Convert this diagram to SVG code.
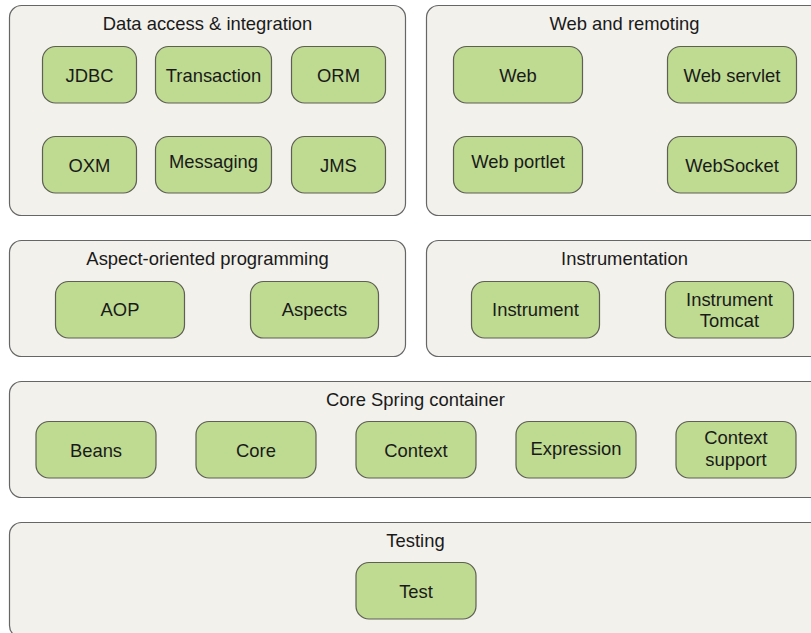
<svg xmlns="http://www.w3.org/2000/svg" width="811" height="633" viewBox="0 0 811 633">
<style>
.grp{fill:#f2f1ec;stroke:#666;stroke-width:1.2}
.mod{fill:#bedb91;stroke:#5f5f55;stroke-width:1.2}
text{font-family:"Liberation Sans",Arial,sans-serif;font-size:18.4px;fill:#1a1a1a;text-anchor:middle}
</style>
<rect width="811" height="633" fill="#ffffff"/>
<g id="data-access">
<rect class="grp" x="9.5" y="5.5" width="396" height="210" rx="12"/>
<text x="207.5" y="29.5">Data access &amp; integration</text>
</g>
<g id="web-remoting">
<rect class="grp" x="426.5" y="5.5" width="400" height="210" rx="12"/>
<text x="624.5" y="29.5">Web and remoting</text>
</g>
<g id="aop-group">
<rect class="grp" x="9.5" y="240.5" width="396" height="116" rx="12"/>
<text x="207.5" y="264.5">Aspect-oriented programming</text>
</g>
<g id="instrumentation">
<rect class="grp" x="426.5" y="240.5" width="400" height="116" rx="12"/>
<text x="624.5" y="264.5">Instrumentation</text>
</g>
<g id="core-container">
<rect class="grp" x="9.5" y="381.5" width="820" height="116" rx="12"/>
<text x="415.5" y="405.5">Core Spring container</text>
</g>
<g id="testing">
<rect class="grp" x="9.5" y="522.5" width="820" height="115" rx="12"/>
<text x="415.5" y="547">Testing</text>
</g>
<g id="jdbc"><rect class="mod" x="42.5" y="46.5" width="94" height="56.5" rx="13"/><text x="89.5" y="81.5">JDBC</text></g>
<g id="transaction"><rect class="mod" x="155.5" y="46.5" width="116" height="56.5" rx="13"/><text x="213.5" y="81.5">Transaction</text></g>
<g id="orm"><rect class="mod" x="291.5" y="46.5" width="94" height="56.5" rx="13"/><text x="338.5" y="81.5">ORM</text></g>
<g id="oxm"><rect class="mod" x="42.5" y="136.5" width="94" height="56.5" rx="13"/><text x="89.5" y="171.5">OXM</text></g>
<g id="messaging"><rect class="mod" x="155.5" y="136.5" width="116" height="56.5" rx="13"/><text x="213.5" y="168.3">Messaging</text></g>
<g id="jms"><rect class="mod" x="291.5" y="136.5" width="94" height="56.5" rx="13"/><text x="338.5" y="171.5">JMS</text></g>
<g id="web"><rect class="mod" x="453.5" y="46.5" width="129" height="56.5" rx="13"/><text x="518" y="81.5">Web</text></g>
<g id="web-servlet"><rect class="mod" x="667.5" y="46.5" width="129" height="56.5" rx="13"/><text x="732" y="81.5">Web servlet</text></g>
<g id="web-portlet"><rect class="mod" x="453.5" y="136.5" width="129" height="56.5" rx="13"/><text x="518" y="168.3">Web portlet</text></g>
<g id="websocket"><rect class="mod" x="667.5" y="136.5" width="129" height="56.5" rx="13"/><text x="732" y="171.5">WebSocket</text></g>
<g id="aop"><rect class="mod" x="55.5" y="281.5" width="129" height="56.5" rx="13"/><text x="120" y="316.3">AOP</text></g>
<g id="aspects"><rect class="mod" x="250.5" y="281.5" width="128" height="56.5" rx="13"/><text x="314.5" y="315.5">Aspects</text></g>
<g id="instrument"><rect class="mod" x="471.5" y="281.5" width="128" height="56.5" rx="13"/><text x="535.5" y="316.3">Instrument</text></g>
<g id="instrument-tomcat"><rect class="mod" x="665.5" y="281.5" width="128" height="56.5" rx="13"/><text x="729.5" y="305.5">Instrument</text><text x="729.5" y="326.5">Tomcat</text></g>
<g id="beans"><rect class="mod" x="36" y="421.5" width="120" height="56.5" rx="13"/><text x="96" y="456.8">Beans</text></g>
<g id="core"><rect class="mod" x="196" y="421.5" width="120" height="56.5" rx="13"/><text x="256" y="456.8">Core</text></g>
<g id="context"><rect class="mod" x="356" y="421.5" width="120" height="56.5" rx="13"/><text x="416" y="456.8">Context</text></g>
<g id="expression"><rect class="mod" x="516" y="421.5" width="120" height="56.5" rx="13"/><text x="576" y="455">Expression</text></g>
<g id="context-support"><rect class="mod" x="676" y="421.5" width="120" height="56.5" rx="13"/><text x="736" y="444">Context</text><text x="736" y="465.5">support</text></g>
<g id="test"><rect class="mod" x="356" y="562.5" width="120" height="56.5" rx="13"/><text x="416" y="597.7">Test</text></g>
<g id="connectors"></g>
</svg>
